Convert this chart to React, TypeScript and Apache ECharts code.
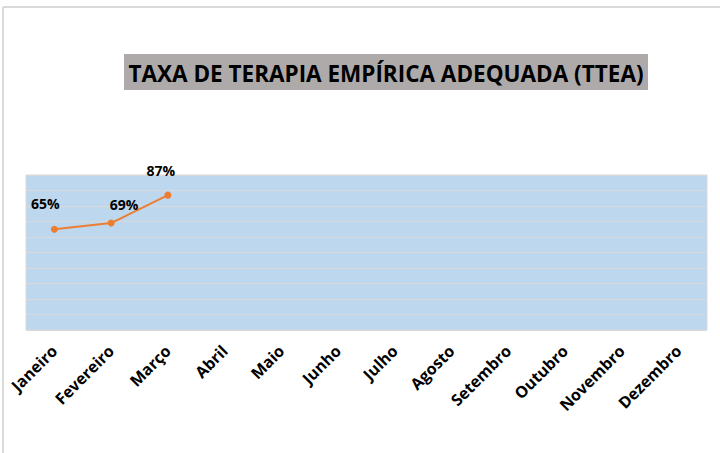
import React, { useEffect, useRef } from "react";
import * as echarts from "echarts";

const months = ["Janeiro", "Fevereiro", "Março", "Abril", "Maio", "Junho", "Julho", "Agosto", "Setembro", "Outubro", "Novembro", "Dezembro"];
const ttea = [65, 69, 87];
const labelOffsets = [[-9, -10], [13, -3], [-7, -9]];
const titleText = "TAXA DE TERAPIA EMPÍRICA ADEQUADA (TTEA)";

export default function App() {
  const ref = useRef<HTMLDivElement>(null);
  useEffect(() => {
    const chart = echarts.init(ref.current!, null, { renderer: "svg" });
    chart.setOption({
      animation: false,
      backgroundColor: "#ffffff",
      graphic: [
        { type: "line", shape: { x1: 3, y1: 7, x2: 720, y2: 7 }, style: { stroke: "#d9d9d9", lineWidth: 2 } },
        { type: "line", shape: { x1: 3, y1: 7, x2: 3, y2: 453 }, style: { stroke: "#d9d9d9", lineWidth: 2 } },
        { type: "rect", shape: { x: 124, y: 54, width: 524, height: 36 }, style: { fill: "#aeaaaa" }, z: 0 },
        {
          type: "text",
          x: 386,
          y: 73,
          style: {
            text: titleText,
            font: "bold 22.5px 'Open Sans', sans-serif",
            fill: "#000000",
            textAlign: "center",
            textVerticalAlign: "middle",
          },
          z: 1,
        },
      ],
      grid: {
        left: 26,
        right: 13,
        top: 175,
        bottom: 123,
        show: true,
        backgroundColor: "#bdd7ee",
        borderColor: "#d9d9d9",
        borderWidth: 1,
      },
      xAxis: {
        type: "category",
        data: months,
        boundaryGap: true,
        axisLine: { show: false },
        axisTick: { show: false },
        axisLabel: {
          rotate: 45,
          interval: 0,
          margin: 18,
          color: "#000000",
          fontWeight: "bold",
          fontSize: 16,
          fontFamily: "'Open Sans', sans-serif",
        },
      },
      yAxis: {
        type: "value",
        min: 0,
        max: 100,
        interval: 10,
        axisLabel: { show: false },
        axisLine: { show: false },
        axisTick: { show: false },
        splitLine: { lineStyle: { color: "#d9d9d9", width: 1 } },
      },
      series: [
        {
          type: "line",
          data: ttea.map((v, i) => ({ value: v, label: { offset: labelOffsets[i] } })),
          symbol: "circle",
          symbolSize: 7,
          lineStyle: { color: "#ed7d31", width: 2 },
          itemStyle: { color: "#ed7d31" },
          label: {
            show: true,
            position: "top",
            formatter: (p: any) => p.value + "%",
            color: "#000000",
            fontWeight: "bold",
            fontSize: 14,
            fontFamily: "'Open Sans', sans-serif",
          },
        },
      ],
    });
    return () => chart.dispose();
  }, []);
  return <div ref={ref} style={{ position: "fixed", left: 0, top: 0, width: 720, height: 453 }} />;
}
